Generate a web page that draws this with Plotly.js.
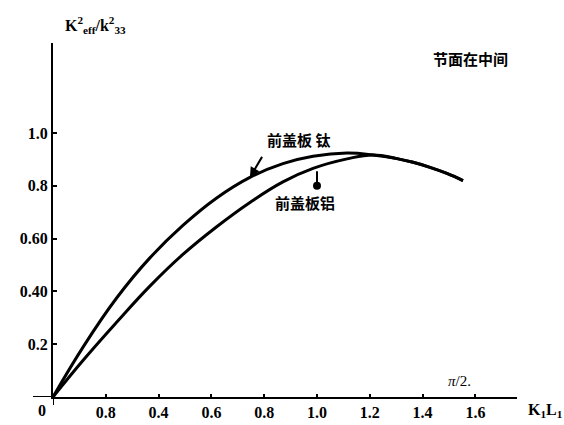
<!DOCTYPE html>
<html>
<head>
<meta charset="utf-8">
<script src="https://cdn.plot.ly/plotly-3.0.1.min.js"></script>
<style>html,body{margin:0;padding:0;background:#fff;}#chart{width:564px;height:425px;}</style>
</head>
<body>
<div id="chart"></div>
<script>
// Data
const tiX = [0, 0.115, 0.241, 0.367, 0.492, 0.620, 0.746, 0.871, 0.985, 1.114, 1.212, 1.303, 1.364, 1.428, 1.492, 1.553];
const tiY = [0, 0.191, 0.375, 0.527, 0.650, 0.754, 0.832, 0.884, 0.912, 0.924, 0.917, 0.903, 0.889, 0.870, 0.847, 0.820];
const alX = [0, 0.115, 0.241, 0.367, 0.492, 0.620, 0.746, 0.871, 0.985, 1.114, 1.212, 1.303, 1.364, 1.428, 1.492, 1.553];
const alY = [0, 0.140, 0.283, 0.420, 0.540, 0.645, 0.737, 0.815, 0.866, 0.902, 0.917, 0.903, 0.889, 0.870, 0.847, 0.820];
const xTickVals = [0.2, 0.4, 0.6, 0.8, 1.0, 1.2, 1.4, 1.6];
const xTickText = ["0.8", "0.4", "0.6", "0.8", "1.0", "1.2", "1.4", "1.6"];
const yTickVals = [0.2, 0.4, 0.6, 0.8, 1.0];
const yTickText = ["0.2", "0.40", "0.60", "0.8", "1.0"];
const labelTi = "前盖板 钛";
const labelAl = "前盖板铝";
const noteText = "节面在中间";
const yTitle = "K<sup>2</sup><sub>eff</sub>/k<sup>2</sup><sub>33</sub>";
const xTitle = "K<sub>1</sub>L<sub>1</sub>";

const serif = {family: "'Times New Roman', 'Liberation Serif', serif", size: 16, color: "#000", weight: "bold"};
const cjk = {family: "'Noto Sans CJK SC'", size: 15, color: "#000", weight: "bold"};

const traces = [
  {x: tiX, y: tiY, type: "scatter", mode: "lines", line: {color: "#000", width: 3, shape: "spline", smoothing: 1.2}, hoverinfo: "skip"},
  {x: alX, y: alY, type: "scatter", mode: "lines", line: {color: "#000", width: 3, shape: "spline", smoothing: 1.2}, hoverinfo: "skip"}
];

const layout = {
  width: 564, height: 425,
  margin: {l: 53, r: 47, t: 43, b: 28},
  paper_bgcolor: "#fff", plot_bgcolor: "#fff",
  showlegend: false,
  xaxis: {
    range: [0, 1.7576], showgrid: false, zeroline: false,
    showline: true, linecolor: "#000", linewidth: 2,
    ticks: "inside", ticklen: 3, tickwidth: 2, tickcolor: "#000",
    tickvals: xTickVals, ticktext: xTickText, tickfont: serif,
    automargin: false, fixedrange: true
  },
  yaxis: {
    range: [0, 1.341], showgrid: false, zeroline: false,
    showline: true, linecolor: "#000", linewidth: 2,
    ticks: "inside", ticklen: 4, tickwidth: 2, tickcolor: "#000",
    tickvals: yTickVals, ticktext: yTickText, tickfont: serif,
    automargin: false, fixedrange: true
  },
  shapes: [
    {type: "line", xref: "paper", yref: "y", x0: -0.0431, x1: 0, y0: 0, y1: 0, line: {color: "#000", width: 2}},
    {type: "line", xref: "x", yref: "paper", x0: 0, x1: 0, y0: -0.0226, y1: 0, line: {color: "#000", width: 2}}
  ],
  annotations: [
    {xref: "paper", yref: "paper", x: -0.024, y: -0.008, text: "0", showarrow: false, xanchor: "center", yanchor: "top", font: serif},
    {xref: "paper", yref: "paper", x: 0.022, y: 1.015, text: yTitle, showarrow: false, xanchor: "left", yanchor: "bottom", font: serif},
    {xref: "paper", yref: "paper", x: 1.02, y: -0.005, text: xTitle, showarrow: false, xanchor: "left", yanchor: "top", font: serif},
    {xref: "x", yref: "y", x: 1.54, y: 0.06, text: "<i>π</i>/2.", showarrow: false, xanchor: "center", yanchor: "middle", font: {family: "'Times New Roman', 'Liberation Serif', serif", size: 15, color: "#000"}},
    {xref: "paper", yref: "paper", x: 0.985, y: 0.955, text: noteText, showarrow: false, xanchor: "right", yanchor: "middle", font: cjk},
    {xref: "x", yref: "y", x: 0.93, y: 0.975, text: labelTi, showarrow: false, xanchor: "center", yanchor: "middle", font: cjk},
    {xref: "x", yref: "y", x: 0.955, y: 0.735, text: labelAl, showarrow: false, xanchor: "center", yanchor: "middle", font: cjk},
    {xref: "x", yref: "y", x: 0.746, y: 0.832, ax: 13, ay: -22, text: "", showarrow: true, arrowhead: 2, arrowsize: 1, arrowwidth: 2, arrowcolor: "#000"},
    {xref: "x", yref: "y", x: 1.0, y: 0.80, ax: 0, ay: -16, text: "", showarrow: true, arrowhead: 6, arrowsize: 1, arrowwidth: 2, arrowcolor: "#000"}
  ]
};

Plotly.newPlot("chart", traces, layout, {staticPlot: true, displayModeBar: false});
</script>
</body>
</html>
